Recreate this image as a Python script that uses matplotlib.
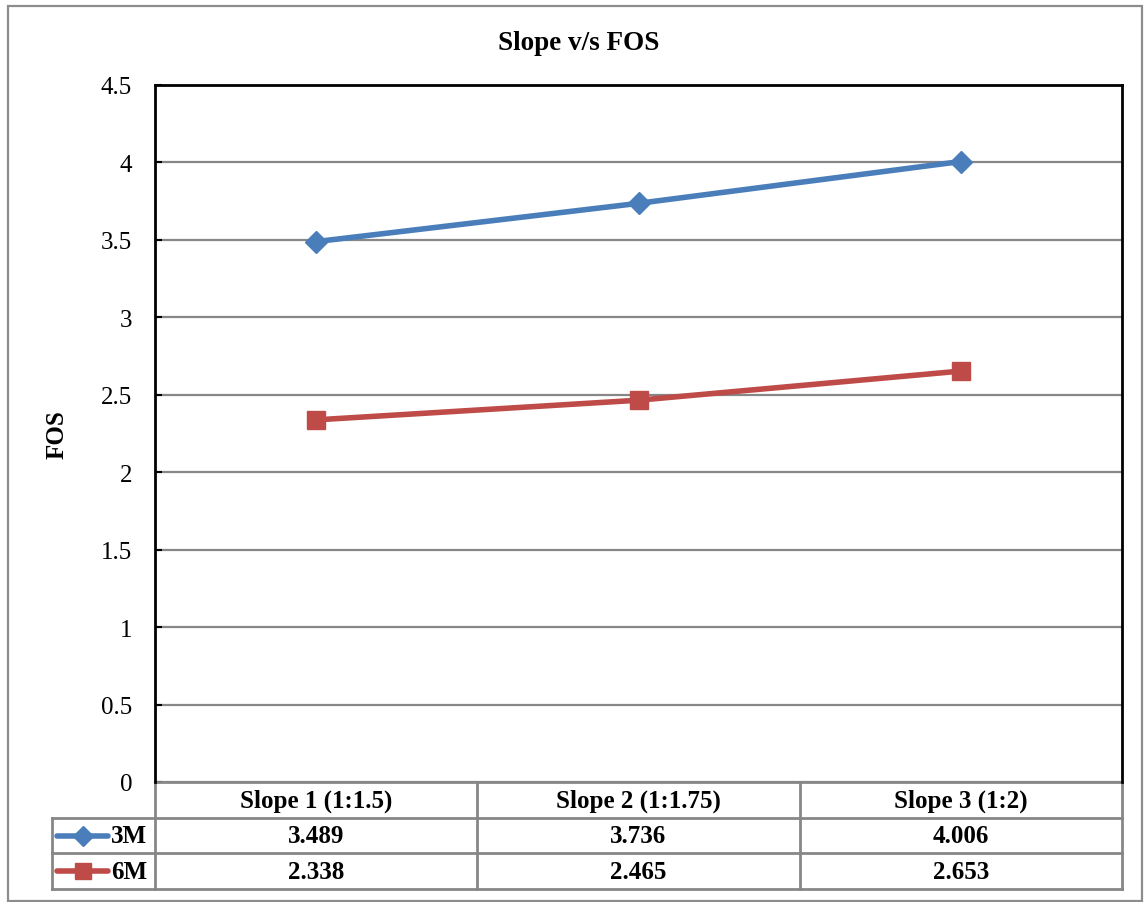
import matplotlib
matplotlib.use("Agg")
import matplotlib.pyplot as plt
from matplotlib.transforms import blended_transform_factory
from matplotlib.lines import Line2D
from matplotlib.patches import Rectangle

categories = ["Slope 1 (1:1.5)", "Slope 2 (1:1.75)", "Slope 3 (1:2)"]
series_names = ["3M", "6M"]
fos_3m = [3.489, 3.736, 4.006]
fos_6m = [2.338, 2.465, 2.653]
y_ticks = [0, 0.5, 1, 1.5, 2, 2.5, 3, 3.5, 4, 4.5]
y_tick_labels = ["0", "0.5", "1", "1.5", "2", "2.5", "3", "3.5", "4", "4.5"]

plt.rcParams["font.family"] = ["Liberation Serif", "DejaVu Serif"]

W, H = 1144, 903
fig = plt.figure(figsize=(W / 100, H / 100), dpi=100)

# plot area in pixel terms
left_px, right_px, top_px, bottom_px = 155, 1122, 86, 783
ax = fig.add_axes([left_px / W, 1 - bottom_px / H,
                   (right_px - left_px) / W, (bottom_px - top_px) / H])

blue = "#4A7EBB"
red = "#BE4B48"
grid_c = "#878787"

x = list(range(len(categories)))
styles = [dict(color=blue, marker="D", markersize=11.5),
          dict(color=red, marker="s", markersize=13.5)]
all_series = [fos_3m, fos_6m]
for vals, st in zip(all_series, styles):
    ax.plot(x, vals, lw=4, solid_capstyle="round", zorder=3, **st)

ax.set_xlim(-0.5, len(categories) - 0.5)
ax.set_ylim(0, 4.5)
ax.set_yticks(y_ticks)
ax.set_yticklabels(y_tick_labels, fontsize=18)
ax.set_xticks([])
ax.yaxis.grid(True, color=grid_c, lw=1.6)
ax.set_axisbelow(True)
ax.tick_params(axis="y", direction="in", length=5, width=1.5, pad=16.5, color="black")
for side in ["left", "top", "right"]:
    ax.spines[side].set_linewidth(2)
    ax.spines[side].set_color("black")
ax.spines["bottom"].set_visible(False)

ax.set_ylabel("FOS", fontsize=18, fontweight="bold", labelpad=23)
fig.text(579 / W, 1 - 43 / H, "Slope v/s FOS",
         ha="center", va="center", fontsize=19.5, fontweight="bold")

# data table under the plot
trans = blended_transform_factory(ax.transData, ax.transAxes)
plot_h = bottom_px - top_px
row_h = 35.7 / plot_h
legend_left = -0.5 - 103 / 322.5
n_rows = 1 + len(series_names)
tbl_kw = dict(color=grid_c, lw=2, transform=trans, clip_on=False)

# horizontal rules
ax.add_line(Line2D([-0.5, len(categories) - 0.5], [0, 0], **tbl_kw))
for r in range(1, n_rows + 1):
    ax.add_line(Line2D([legend_left, len(categories) - 0.5], [-r * row_h, -r * row_h], **tbl_kw))
# vertical rules
for xv in [i - 0.5 for i in range(len(categories) + 1)]:
    ax.add_line(Line2D([xv, xv], [0, -n_rows * row_h], **tbl_kw))
ax.add_line(Line2D([legend_left, legend_left], [-row_h, -n_rows * row_h], **tbl_kw))

# header row
for xi, cat in zip(x, categories):
    ax.text(xi, -0.5 * row_h, cat, transform=trans, ha="center", va="center",
            fontsize=18, fontweight="bold")
# value rows with legend keys
for r, (name, vals, st) in enumerate(zip(series_names, all_series, styles), start=1):
    yc = -(r + 0.5) * row_h
    for xi, v in zip(x, vals):
        ax.text(xi, yc, f"{v:.3f}", transform=trans, ha="center", va="center",
                fontsize=18, fontweight="bold")
    k0 = legend_left + 5 / 322.5
    k1 = legend_left + 56 / 322.5
    ax.add_line(Line2D([k0, k1], [yc, yc], color=st["color"], lw=4,
                       solid_capstyle="round", transform=trans, clip_on=False))
    ax.add_line(Line2D([(k0 + k1) / 2], [yc], marker=st["marker"], color=st["color"],
                       markersize=st["markersize"] * 0.85, transform=trans, clip_on=False))
    ax.text(-0.5 - 8 / 322.5, yc, name, transform=trans, ha="right", va="center",
            fontsize=18, fontweight="bold")

# chart border
fig.patches.append(Rectangle((8 / W, 1 / H), (1142 - 8) / W, (899 - 4) / H,
                             transform=fig.transFigure, fill=False,
                             edgecolor="#8C8C8C", lw=1.6))

fig.savefig("out.png", dpi=100)
